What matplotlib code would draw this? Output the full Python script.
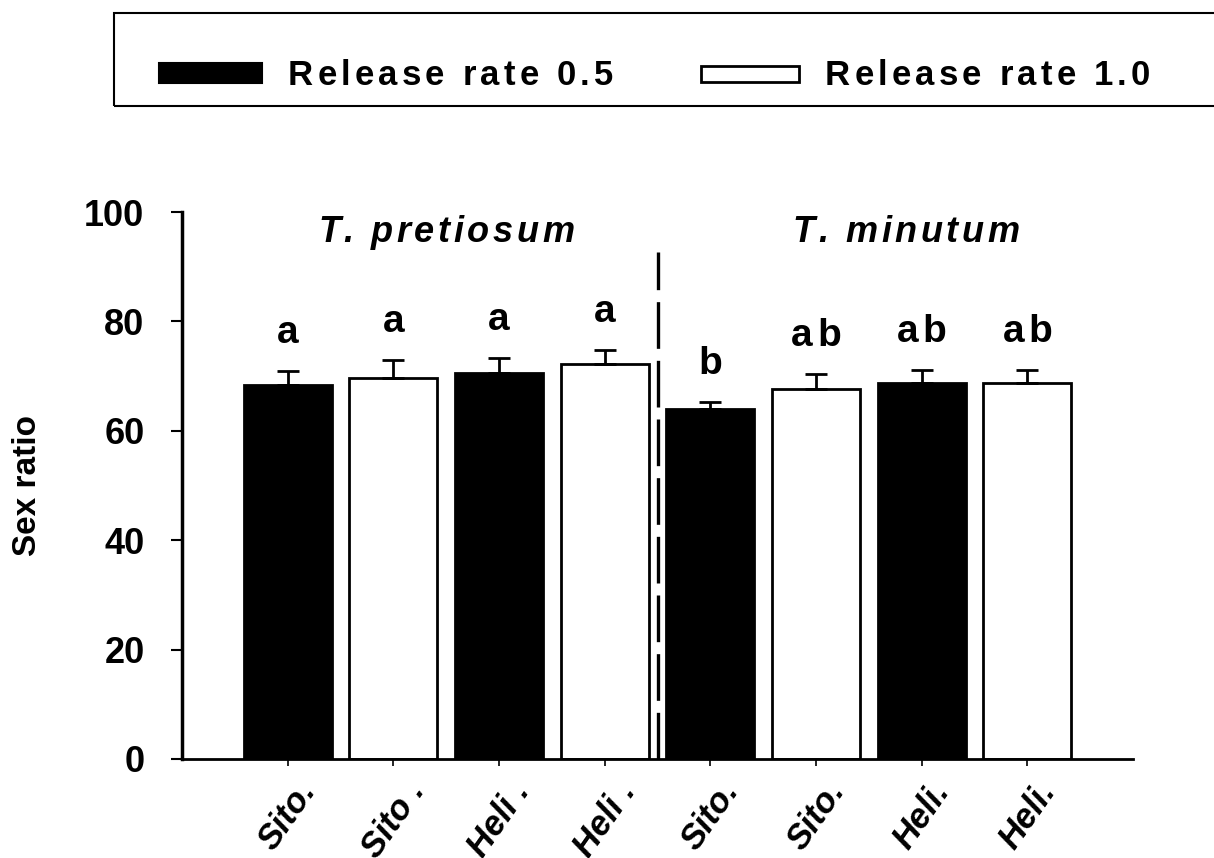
import matplotlib
matplotlib.use('Agg')
import matplotlib.pyplot as plt
from matplotlib.patches import Rectangle
from matplotlib.font_manager import FontProperties, findfont, get_font
from matplotlib.transforms import offset_copy

plt.rcParams['font.family'] = ['Liberation Sans', 'DejaVu Sans']
plt.rcParams['font.weight'] = 'bold'

# Sex ratio per treatment (mean + SE)
hosts = ['Sito.', 'Sito .', 'Heli .', 'Heli .', 'Sito.', 'Sito.', 'Heli.', 'Heli.']
rates = ['0.5', '1.0', '0.5', '1.0', '0.5', '1.0', '0.5', '1.0']
means = [68.4, 69.7, 70.6, 72.2, 64.0, 67.6, 68.7, 68.7]
errors = [2.5, 3.2, 2.7, 2.6, 1.3, 2.8, 2.4, 2.4]
letters = ['a', 'a', 'a', 'a', 'b', 'ab', 'ab', 'ab']
species = ['T. pretiosum', 'T. minutum']
legend_labels = ['Release rate 0.5', 'Release rate 1.0']

fig = plt.figure(figsize=(12.14, 8.58), dpi=100)
ax = fig.add_axes([182/1214, 1-759/858, (1133-182)/1214, (759-212)/858])


def spaced(x, y, s, size, track, transform, style='normal', ha='center'):
    # draw a string char by char with extra letter spacing (points)
    fp = FontProperties(family='Liberation Sans', weight='bold', style=style, size=size)
    font = get_font(findfont(fp))
    font.set_size(size, 72)
    adv = [font.load_char(ord(ch)).linearHoriAdvance / 65536 for ch in s]
    total = sum(adv) + track * (len(s) - 1)
    pos = -total / 2 if ha == 'center' else 0
    for ch, a in zip(s, adv):
        if ch != ' ':
            fig.text(x, y, ch, fontproperties=fp, ha='left', va='baseline',
                     transform=offset_copy(transform, fig=fig, x=pos, y=0, units='points'))
        pos += a + track


xs = list(range(len(means)))
colors = ['black' if r == '0.5' else 'white' for r in rates]
ax.bar(xs, means, width=0.83, color=colors, edgecolor='black', linewidth=2, zorder=2)
ax.errorbar(xs, means, yerr=[[0]*len(errors), errors], fmt='none', ecolor='black',
            elinewidth=2, capsize=8, capthick=2, zorder=3)

for x, m, e, lab in zip(xs, means, errors, letters):
    tr = offset_copy(ax.transData, fig=fig, x=0, y=20, units='points')
    spaced(x, m + e, lab, 28, 3.0, tr)

# divider between the two species
ax.vlines(3.5, 0, 92.7, colors='black', linewidth=2.4, linestyles=(0, (14, 3.6)), zorder=1)

spaced(1.5, 94.5, species[0], 26, 2.6, ax.transData, style='italic')
spaced(5.85, 94.5, species[1], 26, 2.6, ax.transData, style='italic')

ax.set_xlim(-1.0, 8.0)
ax.set_ylim(0, 100)
ax.set_yticks([0, 20, 40, 60, 80, 100])
ax.set_xticks(xs)
ax.set_xticklabels(hosts, rotation=55, ha='center', fontsize=25,
                   fontweight='bold', fontstyle='italic')
for t in ax.get_yticklabels():
    t.set_fontsize(26)
    t.set_fontweight('bold')
ax.tick_params(axis='y', direction='out', length=8, width=1.5, pad=19)
ax.tick_params(axis='x', direction='out', length=5, width=1.2, pad=7)
ax.spines['top'].set_visible(False)
ax.spines['right'].set_visible(False)
ax.spines['left'].set_linewidth(2.5)
ax.spines['bottom'].set_linewidth(2)

fig.text(27/1214, 1-486/858, 'Sex ratio', rotation=90, ha='center', va='center',
         fontsize=24, fontweight='bold')

# legend box across the top
fig.patches.append(Rectangle((114/1214, 1-106/858), 1.2, 93/858, transform=fig.transFigure,
                             fill=False, edgecolor='black', linewidth=1.5))
fig.patches.append(Rectangle((159/1214, 1-83/858), 103/1214, 20/858, transform=fig.transFigure,
                             facecolor='black', edgecolor='black', linewidth=1.5))
fig.patches.append(Rectangle((701/1214, 1-82/858), 98/1214, 16/858, transform=fig.transFigure,
                             facecolor='white', edgecolor='black', linewidth=2))
spaced(288/1214, 1-85/858, legend_labels[0], 25, 3.0, fig.transFigure, ha='left')
spaced(825/1214, 1-85/858, legend_labels[1], 25, 3.0, fig.transFigure, ha='left')

fig.savefig('out.png', dpi=100)
